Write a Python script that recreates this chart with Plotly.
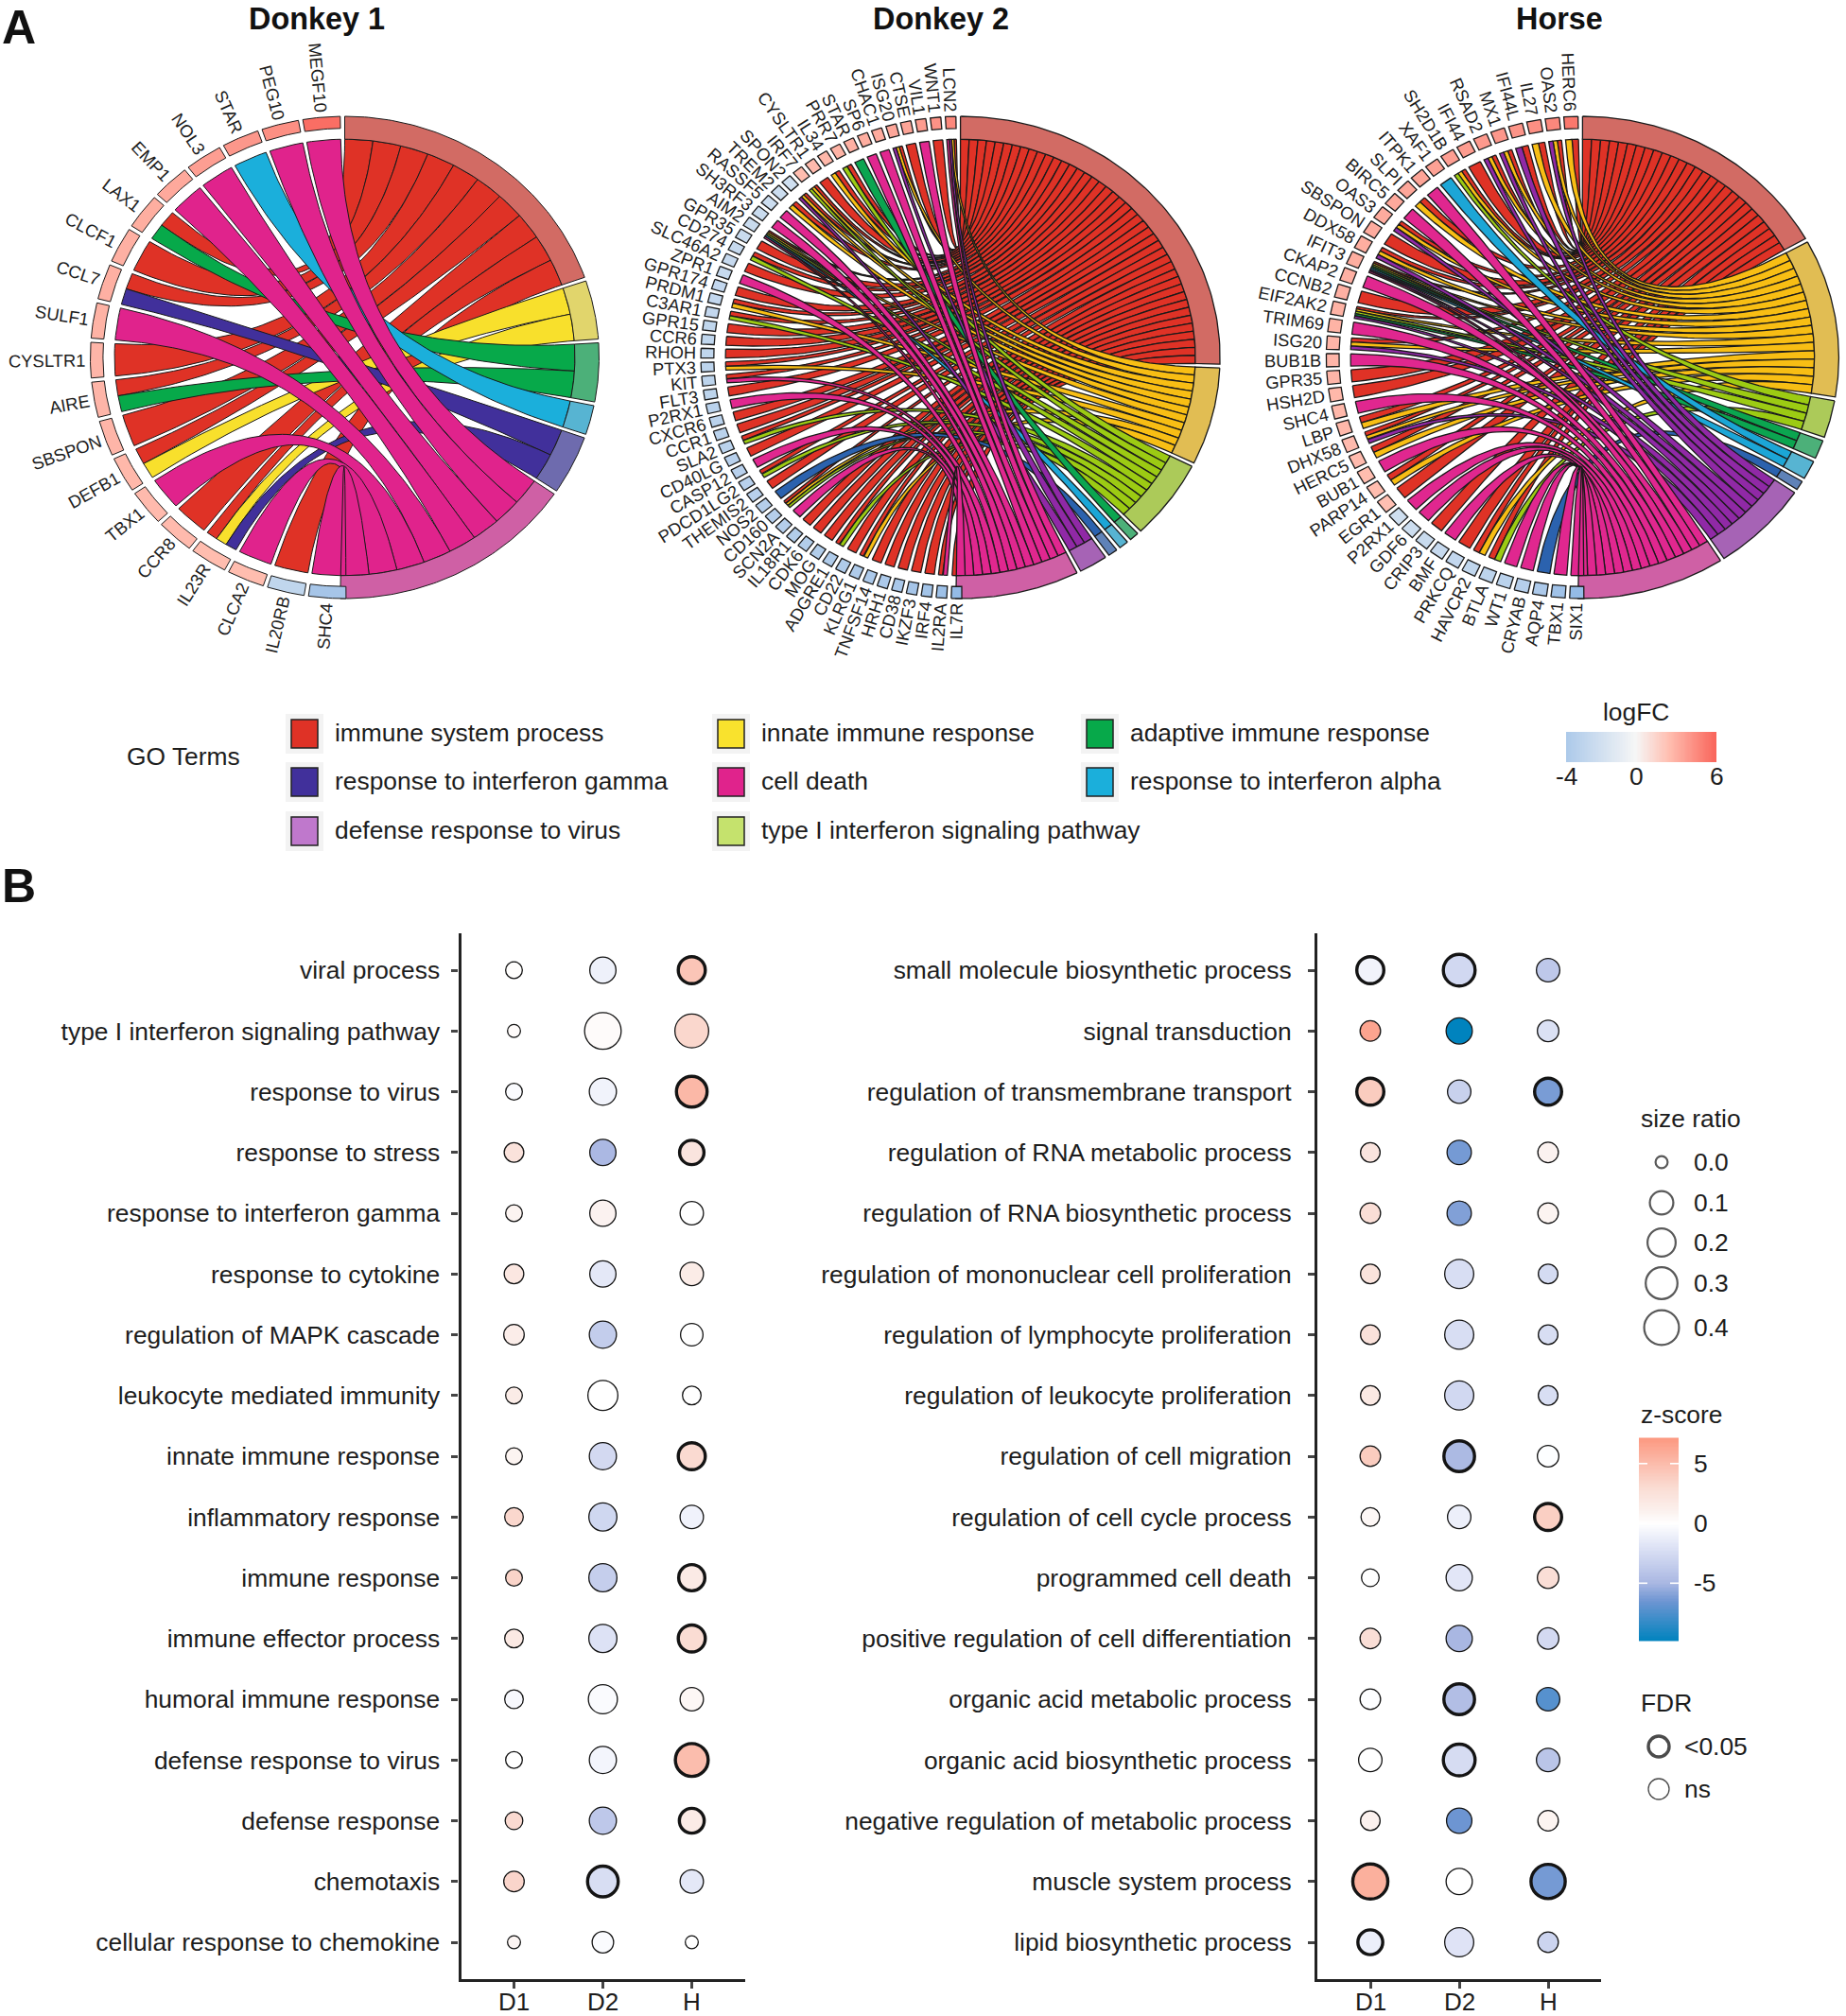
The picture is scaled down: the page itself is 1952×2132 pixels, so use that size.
import math
import numpy as np
import plotly.graph_objects as go

W, H = 1952, 2132
FONT = "Liberation Sans"
INK = "#1c1c1c"
FS = 26.4

# ---------------- Panel A data ----------------
TERM_NAMES = {
    "red": "immune system process", "yellow": "innate immune response", "green": "adaptive immune response",
    "navy": "response to interferon gamma", "magenta": "cell death", "blue": "response to interferon alpha",
    "purple": "defense response to virus", "lime": "type I interferon signaling pathway",
}
d1_genes = ["MEGF10", "PEG10", "STAR", "NOL3", "EMP1", "LAX1", "CLCF1", "CCL7", "SULF1", "CYSLTR1", "AIRE",
            "SBSPON", "DEFB1", "TBX1", "CCR8", "IL23R", "CLCA2", "IL20RB", "SHC4"]
d1_lfc = [5.6, 4.3, 4.0, 3.7, 3.3, 3.1, 3.0, 3.0, 2.9, 2.8, 2.8, 2.8, 2.7, 2.6, 2.6, 2.5, 2.5, -1.8, -2.7]
d1_links = [["magenta"], ["magenta"], ["blue"], ["magenta"], ["magenta"], ["red", "green"], ["red"], ["red", "navy"],
            ["magenta"], ["red"], ["red", "green"], ["red"], ["red", "yellow"], ["magenta"], ["red"],
            ["red", "yellow", "navy"], ["magenta"], ["red"], ["magenta"]]
d1_terms = ["red", "yellow", "green", "blue", "navy", "magenta"]

d2_genes = ["LCN2", "WNT1", "VIL1", "CTSE", "ISG20", "CHAC1", "SP6", "STAR", "PRR7", "IL34", "CYSLTR1", "IRF7",
            "SPON2", "TREM2", "RASSF5", "SH3RF3", "AIM2", "GPR35", "CD274", "SLC46A2", "ZPR1", "GPR174", "PRDM1",
            "C3AR1", "GPR15", "CCR6", "RHOH", "PTX3", "KIT", "FLT3", "P2RX1", "CXCR6", "CCR1", "SLA2", "CD40LG",
            "CASP12", "PDCD1LG2", "THEMIS2", "NOS2", "CD160", "SCN2A", "IL18R1", "CDK6", "MOG", "ADGRE1", "CD22",
            "KLRG1", "TNFSF14", "HRH1", "CD38", "IKZF3", "IRF4", "IL2RA", "IL7R"]
d2_lfc = [4.6, 4.2, 3.8, 3.5, 3.4, 3.2, 3.1, 3.0, 2.9, 2.7, 2.6, 2.5, -1.3, -1.4, -1.4, -1.5, -1.5, -1.5, -1.6, -1.6,
          -1.6, -1.7, -1.7, -1.7, -1.8, -1.8, -1.8, -1.9, -1.9, -1.9, -2.0, -2.0, -2.0, -2.0, -2.1, -2.1, -2.1, -2.1,
          -2.2, -2.2, -2.2, -2.3, -2.3, -2.3, -2.4, -2.4, -2.4, -2.5, -2.5, -2.6, -2.7, -2.8, -3.0, -3.3]
d2_links = [["red", "yellow", "purple", "magenta"], ["red"], ["magenta"], ["red"], ["red", "yellow", "purple"],
            ["magenta"], ["magenta"], ["green"], ["red", "lime"], ["red", "yellow"], ["red"],
            ["red", "yellow", "lime"], ["red", "yellow", "purple"], ["red", "yellow"], ["magenta"], ["magenta"],
            ["red", "yellow", "lime", "blue", "magenta"], ["red"], ["red", "lime"], ["red"], ["magenta"], ["red"],
            ["red", "yellow"], ["red", "lime"], ["red"], ["red"], ["red"], ["red", "yellow"], ["red", "magenta"],
            ["red"], ["magenta"], ["red"], ["red"], ["red", "lime"], ["red"], ["magenta"], ["red", "lime"], ["red"],
            ["navy"], ["red", "yellow", "lime"], ["magenta"], ["red"], ["red"], ["red"], ["red", "lime"], ["red"],
            ["red", "yellow"], ["red"], ["red"], ["red"], ["red"], ["red"], ["red", "magenta"], ["red"]]
d2_terms = ["red", "yellow", "lime", "green", "blue", "navy", "purple", "magenta"]

h_genes = ["HERC6", "OAS2", "IL27", "IFI44L", "MX1", "RSAD2", "IFI44", "SH2D1B", "XAF1", "ITPK1", "SLPI", "BIRC5",
           "OAS3", "SBSPON", "DDX58", "IFIT3", "CKAP2", "CCNB2", "EIF2AK2", "TRIM69", "ISG20", "BUB1B", "GPR35",
           "HSH2D", "SHC4", "LBP", "DHX58", "HERC5", "BUB1", "PARP14", "EGR1", "P2RX1", "GDF6", "CRIP3", "BMF",
           "PRKCQ", "HAVCR2", "BTLA", "WT1", "CRYAB", "AQP4", "TBX1", "SIX1"]
h_lfc = [5.2, 4.6, 4.3, 4.1, 4.0, 3.9, 3.8, 3.7, 3.6, 3.5, 3.4, 3.3, 3.2, 3.2, 3.1, 3.1, 3.0, 3.0, 2.9, 2.9, 2.8,
         2.8, 2.8, 2.7, 2.7, 2.7, 2.6, 2.6, 2.5, 2.5, 2.4, -1.3, -1.4, -1.5, -1.6, -1.7, -1.8, -1.9, -2.0, -2.2,
         -2.5, -2.9, -3.3]
h_links = [["red", "yellow"], ["red", "yellow", "purple"], ["red", "yellow"], ["red", "purple"],
           ["red", "yellow", "purple"], ["red", "yellow", "purple"], ["red"], ["red", "yellow", "lime"], ["blue"],
           ["magenta"], ["red", "yellow"], ["magenta"], ["red", "yellow", "purple"], ["red"],
           ["red", "yellow", "purple"], ["red", "yellow", "lime", "green", "blue", "purple", "magenta"], ["magenta"],
           ["red"], ["red", "yellow", "lime", "green", "purple"], ["magenta"], ["red", "yellow", "purple"],
           ["magenta"], ["red"], ["red"], ["magenta"], ["red", "yellow"], ["red", "yellow", "purple"],
           ["red", "yellow"], ["magenta"], ["red", "yellow"], ["red"], ["magenta"], ["magenta"], ["red"], ["magenta"],
           ["red"], ["red", "yellow"], ["red", "lime"], ["magenta"], ["magenta"], ["navy"], ["magenta"], ["magenta"]]
h_terms = ["red", "yellow", "lime", "green", "blue", "navy", "purple", "magenta"]

RIB_D1 = {"red": "#DF3226", "yellow": "#F8E02C", "green": "#07A94A", "blue": "#1BAFDB", "navy": "#41309B", "magenta": "#E0238C"}
RING_D1 = {"red": "#D26B64", "yellow": "#E1D56C", "green": "#4CB079", "blue": "#57B4D2", "navy": "#6E6BAE", "magenta": "#CF60A5"}
RIB_D2 = {"red": "#DF3226", "yellow": "#F8BE14", "lime": "#9CCB13", "green": "#0BA550", "blue": "#1CA6D6", "navy": "#2B62AE", "purple": "#9029A6", "magenta": "#E0278F"}
RING_D2 = {"red": "#D26B64", "yellow": "#E1BD53", "lime": "#ACCA59", "green": "#4CB079", "blue": "#57B4D2", "navy": "#5F82B8", "purple": "#A663B5", "magenta": "#CF60A5"}
KEY_COL = {"red": "#DF3226", "yellow": "#F9E22D", "green": "#07A94A", "navy": "#41309B", "magenta": "#E0238C",
           "blue": "#1BAFDB", "purple": "#BF78CC", "lime": "#C5E26D"}
legend_rows = [["red", "yellow", "green"], ["navy", "magenta", "blue"], ["purple", "lime"]]

# ---------------- Panel B data ----------------
left_terms = ["viral process", "type I interferon signaling pathway", "response to virus", "response to stress",
              "response to interferon gamma", "response to cytokine", "regulation of MAPK cascade",
              "leukocyte mediated immunity", "innate immune response", "inflammatory response", "immune response",
              "immune effector process", "humoral immune response", "defense response to virus", "defense response",
              "chemotaxis", "cellular response to chemokine"]
left_size_d1 = [.011, 0, .011, .034, .011, .034, .044, .011, .011, .025, .011, .025, .025, .011, .017, .044, 0]
left_size_d2 = [.136, .433, .156, .136, .136, .136, .156, .224, .156, .177, .177, .177, .2, .156, .156, .30, .056]
left_size_h = [.20, .335, .30, .14, .084, .084, .07, .025, .20, .084, .18, .20, .084, .37, .15, .084, 0]
left_z_d1 = [0.1, 0.3, -0.3, 2.4, 0.8, 2.0, 1.4, 1.5, 0.8, 3.3, 3.5, 1.8, -0.5, 0.0, 3.1, 3.4, 0.7]
left_z_d2 = [-1.0, 0.3, -0.8, -4.9, 0.9, -1.6, -3.5, 0.0, -2.6, -2.8, -3.4, -2.0, -0.3, -0.7, -3.8, -2.3, -0.3]
left_z_h = [4.4, 3.3, 5.2, 2.2, 0.0, 1.5, 0.0, 0.0, 3.1, -0.9, 1.7, 3.0, 0.6, 4.9, 1.6, -1.6, 0.0]
left_sig_d1 = [0] * 17
left_sig_d2 = [0] * 15 + [1, 0]
left_sig_h = [1, 0, 1, 1, 0, 0, 0, 0, 1, 0, 1, 1, 0, 1, 1, 0, 0]

right_terms = ["small molecule biosynthetic process", "signal transduction", "regulation of transmembrane transport",
               "regulation of RNA metabolic process", "regulation of RNA biosynthetic process",
               "regulation of mononuclear cell proliferation", "regulation of lymphocyte proliferation",
               "regulation of leukocyte proliferation", "regulation of cell migration",
               "regulation of cell cycle process", "programmed cell death", "positive regulation of cell differentiation",
               "organic acid metabolic process", "organic acid biosynthetic process",
               "negative regulation of metabolic process", "muscle system process", "lipid biosynthetic process"]
right_size_d1 = [.20, .044, .20, .034, .044, .034, .034, .034, .044, .025, .017, .044, .044, .084, .034, .45, .15]
right_size_d2 = [.335, .136, .084, .10, .10, .20, .20, .20, .30, .084, .136, .136, .30, .335, .12, .136, .20]
right_size_h = [.084, .056, .20, .044, .044, .034, .034, .034, .056, .20, .056, .056, .084, .084, .044, .42, .044]
right_z_d1 = [-0.8, 6.4, 4.0, 2.2, 2.8, 2.3, 2.5, 1.8, 4.0, 0.6, 0.0, 2.8, -0.1, 0.0, 1.0, 5.7, -1.1]
right_z_d2 = [-2.7, -9.8, -3.2, -6.3, -6.0, -2.3, -2.3, -2.7, -4.8, -1.1, -1.7, -5.0, -4.5, -2.4, -6.5, 0.0, -1.9]
right_z_h = [-3.8, -2.1, -6.2, 0.9, 0.8, -2.5, -2.3, -2.3, -0.1, 3.8, 2.8, -2.6, -7.2, -4.0, 0.8, -6.3, -3.0]
right_sig_d1 = [1, 0, 1, 0, 0, 0, 0, 0, 0, 0, 0, 0, 0, 0, 0, 1, 1]
right_sig_d2 = [1, 0, 0, 0, 0, 0, 0, 0, 1, 0, 0, 0, 1, 1, 0, 0, 0]
right_sig_h = [0, 0, 1, 0, 0, 0, 0, 0, 0, 1, 0, 0, 0, 0, 0, 1, 0]
samples = ["D1", "D2", "H"]
size_legend = [0.0, 0.1, 0.2, 0.3, 0.4]
z_ticks = [5, 0, -5]
lfc_ticks = [-4, 0, 6]

# ---------------- helpers ----------------
Z_MIN, Z_MAX = -9.8, 7.16
Z_STOPS = [(-9.8, "#0083BE"), (-6.5, "#6D95D2"), (-5.0, "#A9B7E2"), (-2.0, "#DDE2F5"), (0.0, "#FFFFFF"),
           (1.0, "#FBF1EE"), (3.0, "#FADCD3"), (7.16, "#FC9880")]
Z_SCALE = [[(v - Z_MIN) / (Z_MAX - Z_MIN), c] for v, c in Z_STOPS]
LFC_STOPS = [(-4, "#7FAEE2"), (0, "#F6F6F6"), (2.5, "#FFBDAF"), (6, "#F9645A")]
LFC_SCALE = [[(v + 4) / 10, c] for v, c in LFC_STOPS]


def hex2rgb(c):
    return [int(c[i:i + 2], 16) for i in (1, 3, 5)]


def lfc_color(v):
    xs = [s[0] for s in LFC_STOPS]
    rgb = [np.interp(v, xs, [hex2rgb(s[1])[k] for s in LFC_STOPS]) for k in range(3)]
    return "rgb(%d,%d,%d)" % tuple(int(round(x)) for x in rgb)


CW = dict(A=667, B=667, C=722, D=722, E=667, F=611, G=778, H=722, I=278, J=500, K=667, L=556, M=833, N=722, O=778,
          P=667, Q=778, R=722, S=667, T=611, U=722, V=667, W=944, X=667, Y=667, Z=611)


def text_w(s, fs):
    return sum(CW.get(ch, 556) for ch in s) * fs / 1000.0


fig = go.Figure()
annots = []
shapes = []


def text(x, y, s, size=FS, anchor="center", bold=False, angle=0, color=INK, xref="x"):
    annots.append(dict(x=x, y=y, xref=xref, yref="y", text="<b>%s</b>" % s if bold else s, showarrow=False,
                       xanchor=anchor, yanchor="middle", textangle=angle,
                       font=dict(family=FONT, size=size, color=color)))


def poly(xs, ys, fill, lw, lc="#1a1a1a"):
    fig.add_trace(go.Scatter(x=xs, y=ys, mode="lines", fill="toself", fillcolor=fill,
                             line=dict(color=lc, width=lw), hoverinfo="skip", showlegend=False,
                             xaxis="x", yaxis="y"))


def chord(cx, cy, rx, ry, genes, lfc, links, terms, rib, ring, lw, fs):
    R_IN, G_IN = 0.905, 0.95
    GENE_GAP, TERM_GAP, G_START, G_END, T_END = 1.0, 0.9, 359.0, 179.7, 181.0

    def pt(theta, r):
        a = np.radians(theta)
        return r * np.sin(a), -r * np.cos(a)

    def to_px(nx, ny):
        return (cx + rx * np.asarray(nx)).tolist(), (cy + ry * np.asarray(ny)).tolist()

    counts = {t: sum(t in l for l in links) for t in terms}
    unit = (T_END - TERM_GAP * (len(terms) - 1)) / sum(counts.values())
    sp = (G_START - G_END + GENE_GAP) / len(genes)

    gene_sect = []
    for i in range(len(genes)):
        b0 = G_START - i * sp
        gene_sect.append((b0, b0 - sp + GENE_GAP))

    term_start = {}
    a = 0.0
    for t in terms:
        term_start[t] = a
        a += counts[t] * unit + TERM_GAP

    used = {t: 0 for t in terms}
    ribbons = {t: [] for t in terms}
    for i, l in enumerate(links):
        b0, b1 = gene_sect[i]
        w = (b0 - b1) / len(l)
        for j, t in enumerate(l):
            a0 = term_start[t] + used[t] * unit
            used[t] += 1
            ribbons[t].append((a0, a0 + unit, b0 - j * w, b0 - (j + 1) * w))

    tt = np.linspace(0, 1, 70)
    for t in terms:
        for a0, a1, g0, g1 in ribbons[t]:
            arc_t = np.linspace(a0, a1, 8)
            arc_g = np.linspace(g1, g0, 8)
            ax0, ay0 = pt(g0, R_IN); bx0, by0 = pt(a0, R_IN)
            ax1, ay1 = pt(a1, R_IN); bx1, by1 = pt(g1, R_IN)
            c1x = (1 - tt) ** 2 * ax0 + tt ** 2 * bx0
            c1y = (1 - tt) ** 2 * ay0 + tt ** 2 * by0
            c2x = (1 - tt) ** 2 * ax1 + tt ** 2 * bx1
            c2y = (1 - tt) ** 2 * ay1 + tt ** 2 * by1
            atx, aty = pt(arc_t, R_IN)
            agx, agy = pt(arc_g, R_IN)
            nx = np.concatenate([c1x, atx, c2x, agx])
            ny = np.concatenate([c1y, aty, c2y, agy])
            xs, ys = to_px(nx, ny)
            poly(xs, ys, rib[t], lw)

    for t in terms:
        a0 = term_start[t]
        a1 = a0 + counts[t] * unit
        th = np.linspace(a0, a1, 80)
        ox, oy = pt(th, 1.0)
        ix, iy = pt(th[::-1], R_IN)
        xs, ys = to_px(np.concatenate([ox, ix, ox[:1]]), np.concatenate([oy, iy, oy[:1]]))
        poly(xs, ys, ring[t], lw)

    for i, g in enumerate(genes):
        b0, b1 = gene_sect[i]
        th = np.linspace(b0, b1, 12)
        ox, oy = pt(th, 1.0)
        ix, iy = pt(th[::-1], G_IN)
        xs, ys = to_px(np.concatenate([ox, ix, ox[:1]]), np.concatenate([oy, iy, oy[:1]]))
        poly(xs, ys, lfc_color(lfc[i]), lw)
        mid = (b0 + b1) / 2
        px, py = pt(mid, 1.0)
        dx, dy = pt(mid, 1.0)
        dist = 5 + text_w(g, fs) / 2
        text(cx + rx * px + dx * dist, cy + ry * py + dy * dist, g, size=fs, angle=mid - 270)


chord(364.5, 378, 269, 255, d1_genes, d1_lfc, d1_links, d1_terms, RIB_D1, RING_D1, 1.0, 18.4)
chord(1015.6, 378, 274.5, 255, d2_genes, d2_lfc, d2_links, d2_terms, RIB_D2, RING_D2, 1.3, 18.4)
chord(1673.4, 378, 271, 255, h_genes, h_lfc, h_links, h_terms, RIB_D2, RING_D2, 1.3, 18.4)

# titles
text(335, 20, "Donkey 1", size=32.4, bold=True, color="#111")
text(995, 20, "Donkey 2", size=32.4, bold=True, color="#111")
text(1649, 20, "Horse", size=32.4, bold=True, color="#111")
text(20, 29, "A", size=50, bold=True, color="#111")
text(20, 937, "B", size=50, bold=True, color="#111")

# GO legend
text(132, 800, "GO Terms", anchor="left")
col_x = [302, 753, 1143]
row_y = [776, 827, 879]
for r, row in enumerate(legend_rows):
    for c, t in enumerate(row):
        x0, y0 = col_x[c], row_y[r]
        shapes.append(dict(type="rect", xref="x", yref="y", x0=x0, x1=x0 + 40, y0=y0 - 21, y1=y0 + 21,
                           fillcolor="#F3F3F3", line=dict(width=0), layer="below"))
        shapes.append(dict(type="rect", xref="x", yref="y", x0=x0 + 6, x1=x0 + 34, y0=y0 - 15, y1=y0 + 15,
                           fillcolor=KEY_COL[t], line=dict(width=1.5, color="#222"), layer="above"))
        text(x0 + 50, y0 - 1, TERM_NAMES[t], anchor="left")

# logFC legend
LFC_PX = [1656, 1730, 1815]
vals = np.linspace(-4, 6, 121)
cell = (vals[:-1] + vals[1:]) / 2
shown = [v * 0.62 if v < 0 else v for v in cell]
fig.add_trace(go.Heatmap(x=np.interp(vals, lfc_ticks, LFC_PX), y=[774, 806], z=[shown],
                         colorscale=LFC_SCALE, zmin=-4, zmax=6, showscale=False, hoverinfo="skip",
                         xaxis="x", yaxis="y"))
text(1730, 753, "logFC")
for v, px in zip(lfc_ticks, LFC_PX):
    text(px, 821, str(v))

# ---------------- Panel B ----------------
ROW = 64.25
COLW = 94.0
def size_px(s, lw):
    return [15 + 38 * math.sqrt(v) - w for v, w in zip(s, lw)]

def lws(sig):
    return [3.4 if v else 1.3 for v in sig]

def dot_panel(xa, ya, terms, sizes, zs, sigs):
    for name, s, z, sg in zip(samples, sizes, zs, sigs):
        w = lws(sg)
        fig.add_trace(go.Scatter(x=[name] * len(terms), y=terms, mode="markers", xaxis=xa, yaxis=ya,
                                 hoverinfo="skip", showlegend=False,
                                 marker=dict(size=size_px(s, w), color=z, cmin=Z_MIN, cmax=Z_MAX, colorscale=Z_SCALE,
                                             line=dict(width=w, color="#141414"), opacity=1)))
    for name in samples:
        text(name, 2117, name, size=26, xref=xa)

dot_panel("x2", "y2", left_terms, [left_size_d1, left_size_d2, left_size_h], [left_z_d1, left_z_d2, left_z_h],
          [left_sig_d1, left_sig_d2, left_sig_h])
dot_panel("x3", "y3", right_terms, [right_size_d1, right_size_d2, right_size_h], [right_z_d1, right_z_d2, right_z_h],
          [right_sig_d1, right_sig_d2, right_sig_h])

# size legend
size_y = [1229, 1272, 1314, 1357, 1404]
wl = [2.2] * 5
fig.add_trace(go.Scatter(x=[1757] * 5, y=size_y, mode="markers", hoverinfo="skip", showlegend=False,
                         marker=dict(size=size_px(size_legend, wl), color="white", line=dict(width=2.2, color="#141414")),
                         xaxis="x", yaxis="y"))
text(1733, 1183, "size ratio", anchor="left")
for v, y in zip(size_legend, size_y):
    text(1789, y, "%.1f" % v, anchor="left")

# z-score legend
BAR_TOP, BAR_BOT = 1520.5, 1735.0
zv = np.linspace(Z_MAX, Z_MIN, 161)
zc = (zv[:-1] + zv[1:]) / 2
def z_to_px(v):
    return BAR_TOP + (Z_MAX - v) / (Z_MAX - Z_MIN) * (BAR_BOT - BAR_TOP)
fig.add_trace(go.Heatmap(x=[1733, 1775], y=[z_to_px(v) for v in zv], z=[[v] for v in zc], colorscale=Z_SCALE,
                         zmin=Z_MIN, zmax=Z_MAX, showscale=False, hoverinfo="skip", xaxis="x", yaxis="y"))
text(1733, 1496, "z-score", anchor="left")
for v in z_ticks:
    y = z_to_px(v)
    text(1789, y, str(v), anchor="left")
    for x0, x1 in ((1733, 1742), (1766, 1775)):
        shapes.append(dict(type="line", xref="x", yref="y", x0=x0, x1=x1, y0=y, y1=y,
                           line=dict(color="white", width=1.6), layer="above"))

# FDR legend
fdr_labels = ["&lt;0.05", "ns"]
fdr_y = [1847, 1892]
fig.add_trace(go.Scatter(x=[1754, 1754], y=fdr_y, mode="markers", hoverinfo="skip", showlegend=False,
                         marker=dict(size=[22, 22], color="white", line=dict(width=[3.4, 1.3], color="#000000")),
                         xaxis="x", yaxis="y"))
text(1733, 1801, "FDR", anchor="left")
for s, y in zip(fdr_labels, fdr_y):
    text(1779, y, s, anchor="left")

# ---------------- axes ----------------
def xdom(a, b):
    return [a / W, b / W]

def ydom(top, bot):
    return [1 - bot / H, 1 - top / H]

TOP, BOT = 987.0, 2092.6
FIRST, LAST = 1026.0, 2054.0
axis_common = dict(showline=True, linecolor="#222", linewidth=3.2, ticks="outside", ticklen=7, tickwidth=2.6,
                   tickcolor="#444", showgrid=False, zeroline=False, fixedrange=True, automargin=False,
                   tickfont=dict(family=FONT, size=FS, color=INK), type="category")

def x_ax(x0, anchor):
    first = x0 + 56
    return dict(domain=xdom(x0, x0 + 300), anchor=anchor, categoryorder="array", categoryarray=samples,
                range=[-(first - x0) / COLW, (x0 + 300 - first) / COLW], showticklabels=False, **axis_common)

def y_ax(terms, anchor, standoff):
    return dict(domain=ydom(TOP, BOT), anchor=anchor, categoryorder="array", categoryarray=terms,
                range=[(BOT - FIRST) / ROW, -(FIRST - TOP) / ROW], ticklabelstandoff=standoff, **axis_common)

fig.update_layout(
    width=W, height=H, margin=dict(l=0, r=0, t=0, b=0, autoexpand=False), autosize=False,
    paper_bgcolor="white", plot_bgcolor="rgba(0,0,0,0)", showlegend=False,
    xaxis=dict(domain=[0, 1], range=[0, W], visible=False, fixedrange=True, anchor="y", automargin=False),
    yaxis=dict(domain=[0, 1], range=[H, 0], visible=False, fixedrange=True, anchor="x", automargin=False),
    xaxis2=x_ax(487.5, "y2"), yaxis2=y_ax(left_terms, "x2", 7),
    xaxis3=x_ax(1393.0, "y3"), yaxis3=y_ax(right_terms, "x3", 12),
    annotations=annots, shapes=shapes, font=dict(family=FONT),
)
fig.write_html("out.html", post_script="document.body.style.margin='0';", config={"displayModeBar": False})
